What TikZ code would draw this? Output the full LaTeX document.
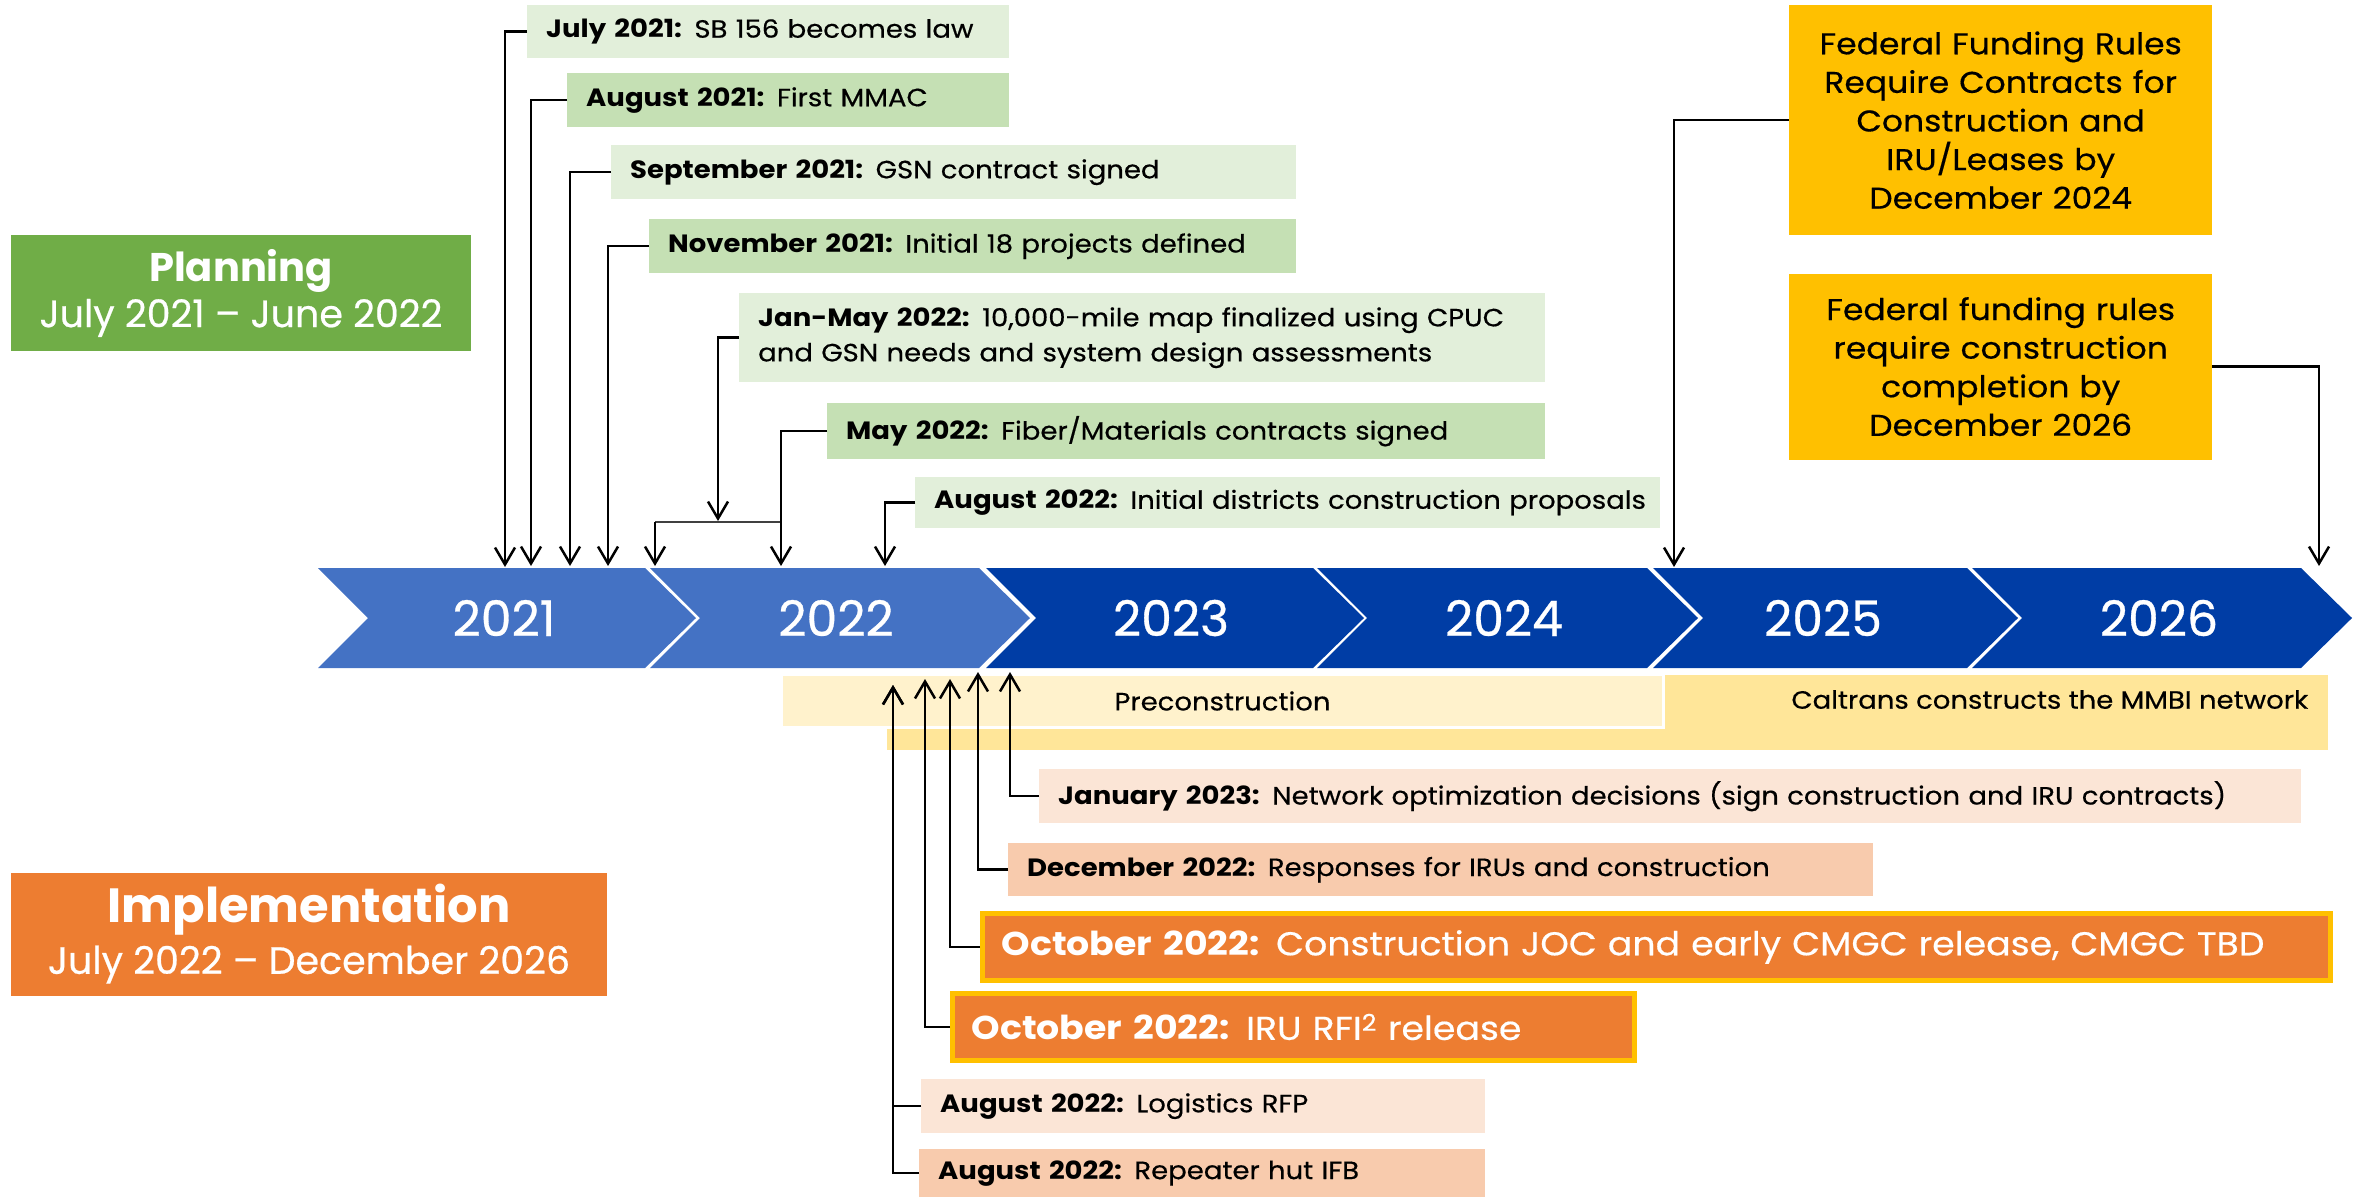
\documentclass[tikz,border=0pt]{standalone}
\usepackage{fontspec}
\setmainfont{Poppins}
\newfontfamily\evfont{Poppins}[FakeStretch=1.1, UprightFeatures={FakeBold=0.5}]
\newfontfamily\medfont{Poppins}[UprightFeatures={FakeBold=0.6}]
\usetikzlibrary{arrows.meta, positioning}
\definecolor{lgreen}{HTML}{E2EFDA}
\definecolor{dgreen}{HTML}{C5E0B4}
\definecolor{plangreen}{HTML}{70AD47}
\definecolor{implorange}{HTML}{ED7D31}
\definecolor{gold}{HTML}{FFC000}
\definecolor{lpeach}{HTML}{FBE5D6}
\definecolor{dpeach}{HTML}{F8CBAD}
\definecolor{lyellow}{HTML}{FFF2CC}
\definecolor{dyellow}{HTML}{FFE699}
\definecolor{yblue}{HTML}{4472C4}
\definecolor{ydark}{RGB}{0,61,165}
\newcommand{\fsz}[2]{\fontsize{#1}{#2}\selectfont}

\begin{document}
\begin{tikzpicture}[x=1pt, y=-1pt,
      ev/.style={anchor=north west, inner xsep=19pt, inner ysep=0pt, align=left, font=\evfont\fsz{25}{30}},
      hot/.style={ev, fill=implorange, draw=gold, line width=5pt, text=white, font=\evfont\fsz{33}{40}},
      fed/.style={fill=gold, inner sep=0pt, align=center, text width=423pt, font=\evfont\fsz{30}{38.6}},
      phase/.style={inner sep=0pt, align=center, text=white},
      band/.style={anchor=north west, inner sep=0pt, font=\evfont\fsz{25}{30}},
      yr/.style={text=white, font=\medfont\fsz{49}{52}},
      conn/.style={-{Straight Barb[length=17pt, width=20pt]}, line width=2.5pt}]
    \useasboundingbox (0,0) rectangle (2357,1197);
    \foreach \xl/\xr/\col/\xt/\yr in {318/645/yblue/504/2021, 650/979/yblue/836/2022, 986/1313/ydark/1171/2023,
        1317/1647/ydark/1504/2024, 1653/1967/ydark/1823/2025, 1972/2301/ydark/2159/2026}{
      \fill[\col] (\xl,568) -- (\xr,568) -- (\xr+51,618) -- (\xr,668) -- (\xl,668) -- (\xl+50,618) -- cycle;
      \node[yr] (y\yr) at (\xt,618) {\yr};
    }
    \node[band, fill=dyellow, minimum width=1441pt, minimum height=75pt,
      label={[anchor=north east, inner sep=0pt, font=\evfont\fsz{25}{30}, xshift=-20pt, yshift=-15pt]north east:Caltrans constructs the MMBI network}] (cal) at (887,675) {};
    \node[band, fill=lyellow, draw=white, line width=3pt, minimum width=882pt, minimum height=53pt] (pre) at (780,673) {Preconstruction};
    \node[phase, fill=plangreen, minimum width=460pt, minimum height=116pt, font=\medfont\fsz{38}{46}] (plan) at (241,293)
      {{\fsz{40}{46}\textbf{Planning}}\\July 2021 – June 2022};
    \node[phase, fill=implorange, minimum width=596pt, minimum height=123pt, font=\medfont\fsz{38}{51}] (impl) at (309,934)
      {{\fsz{48}{51}\textbf{Implementation}}\\July 2022 – December 2026};
    \node[ev, fill=lgreen, text width=444pt, minimum height=53pt] (jul21) at (527,5) {\textbf{July 2021:} SB 156 becomes law};
    \node[ev, fill=dgreen, text width=404pt, minimum height=54pt] (aug21) at (567,73) {\textbf{August 2021:} First MMAC};
    \node[ev, fill=lgreen, text width=647pt, minimum height=54pt] (sep21) at (611,145) {\textbf{September 2021:} GSN contract signed};
    \node[ev, fill=dgreen, text width=609pt, minimum height=54pt] (nov21) at (649,219) {\textbf{November 2021:} Initial 18 projects defined};
    \node[ev, fill=lgreen, text width=768pt, minimum height=89pt, font=\evfont\fsz{25}{35}] (janmay) at (739,293)
      {\textbf{Jan-May 2022:} 10,000-mile map finalized using CPUC\\and GSN needs and system design assessments};
    \node[ev, fill=dgreen, text width=680pt, minimum height=56pt] (may22) at (827,403) {\textbf{May 2022:} Fiber/Materials contracts signed};
    \node[ev, fill=lgreen, text width=707pt, minimum height=51pt] (aug22) at (915,477) {\mbox{\textbf{August 2022:} Initial districts construction proposals}};
    \node[fed, anchor=north west, minimum height=230pt] (fed1) at (1789,5)
      {Federal Funding Rules\\Require Contracts for\\Construction and\\IRU/Leases by\\December 2024};
    \node[fed, minimum height=186pt, below=38pt of fed1] (fed2)
      {Federal funding rules\\require construction\\completion by\\December 2026};
    \node[ev, fill=lpeach, text width=1224pt, minimum height=54pt] (jan23) at (1039,769)
      {\textbf{January 2023:} Network optimization decisions (sign construction and IRU contracts)};
    \node[ev, fill=dpeach, text width=827pt, minimum height=53pt] (dec22) at (1008,843) {\textbf{December 2022:} Responses for IRUs and construction};
    \node[hot, text width=1310pt, minimum height=67pt] (octjoc) at (980,911)
      {\textbf{October 2022:} Construction JOC and early CMGC release, CMGC TBD};
    \node[hot, text width=644pt, minimum height=67pt] (octiru) at (950,991) {\textbf{October 2022:} IRU RFI\textsuperscript{2} release};
    \node[ev, fill=lpeach, text width=526pt, minimum height=54pt] (auglog) at (921,1079) {\textbf{August 2022:} Logistics RFP};
    \node[ev, fill=dpeach, text width=528pt, minimum height=48pt] (augrep) at (919,1149) {\textbf{August 2022:} Repeater hut IFB};
    \coordinate (tjul) at (505,567);
    \coordinate (taug) at (531,566);
    \coordinate (tsep) at (570,566);
    \coordinate (tnov) at (608,566);
    \coordinate (tjm) at (718,521);
    \coordinate (bl) at (655,522);
    \coordinate (br) at (781,522);
    \coordinate (tbl) at (655,566);
    \coordinate (tmay) at (781,566);
    \coordinate (tdis) at (885,566);
    \coordinate (tfed1) at (1674,567);
    \coordinate (tfed2) at (2319,566);
    \coordinate (bjan) at (1010,672);
    \coordinate (bdec) at (978,672);
    \coordinate (bjoc) at (950,679);
    \coordinate (biru) at (925,679);
    \coordinate (blog) at (893,685);
    \draw[conn] (jul21.west) -| (tjul);
    \draw[conn] (aug21.west) -| (taug);
    \draw[conn] (sep21.west) -| (tsep);
    \draw[conn] (nov21.west) -| (tnov);
    \draw[line width=2pt, black!75] (bl) -- (br);
    \draw[conn] (janmay.west) -| (tjm);
    \draw[conn] (bl) -- (tbl);
    \draw[conn] (may22.west) -| (tmay);
    \draw[conn] (aug22.west) -| (tdis);
    \draw[conn] (fed1.west) -| (tfed1);
    \draw[conn] (fed2.east) -| (tfed2);
    \draw[conn] (jan23.west) -| (bjan);
    \draw[conn] (dec22.west) -| (bdec);
    \draw[conn] (octjoc.west) -| (bjoc);
    \draw[conn] (octiru.west) -| (biru);
    \draw[conn] (auglog.west) -| (blog);
    \draw[conn] (augrep.west) -| (blog);
  \end{tikzpicture}
\end{document}
